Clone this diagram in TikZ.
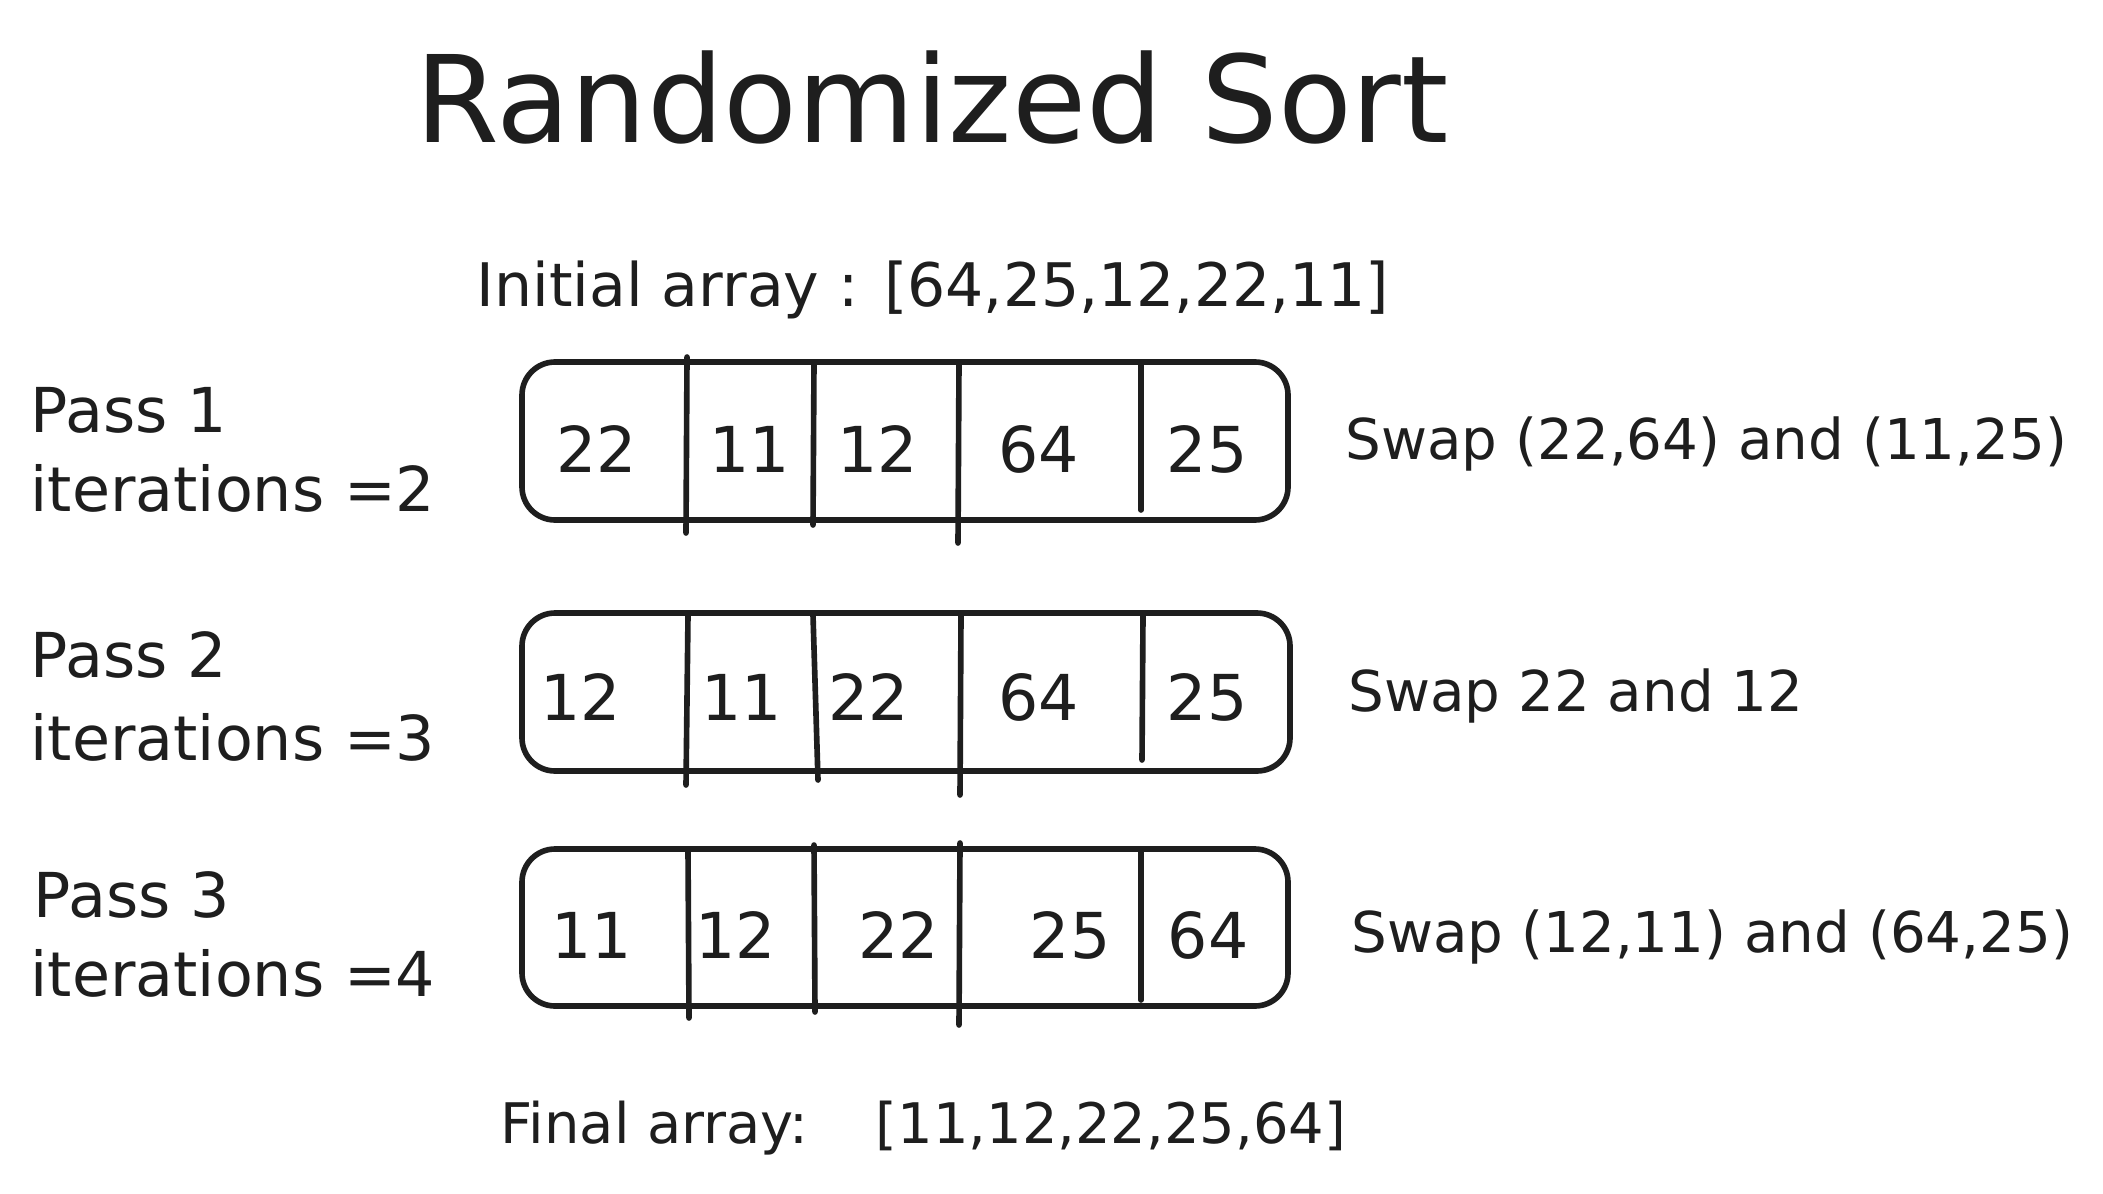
\documentclass[tikz,border=0pt]{standalone}
\usepackage{fontspec}
\setmainfont{DejaVu Sans}
\definecolor{ink}{HTML}{1E1E1E}
\tikzset{
  cellbox/.style={draw=ink, line width=1.6pt, rounded corners=0.33cm},
  divider/.style={draw=ink, line width=1.6pt, line cap=round},
  num/.style={text=ink, font=\fontsize{18}{20}\selectfont, inner sep=0pt},
  lbl/.style={text=ink, inner sep=0pt},
  passlbl/.style={lbl, anchor=base west, font=\fontsize{17.6}{20}\selectfont},
  swaplbl/.style={lbl, anchor=base west, font=\fontsize{16}{19}\selectfont},
}
\newcommand\fitw[2]{\resizebox{#1cm}{!}{#2}}
\begin{document}
\begin{tikzpicture}[x=0.01cm,y=-0.01cm]
\useasboundingbox[fill=white] (0,0) rectangle (2103,1194);

% title and captions
\node[lbl, anchor=base] (title) at (932,143) {\fitw{10.33}{Randomized Sort}};
\node[lbl, anchor=base west] (init) at (476,306) {\fitw{9.12}{Initial array : [64,25,12,22,11]}};
\node[lbl, anchor=base west] (final) at (500,1143) {\fitw{8.45}{Final array:\hspace{1.2em}[11,12,22,25,64]}};

% left labels
\node[passlbl] (p1) at (30,432) {Pass 1};
\node[passlbl] (i1) at (30,511) {iterations =2};
\node[passlbl] (p2) at (30,677) {Pass 2};
\node[passlbl] (i2) at (30,760) {iterations =3};
\node[passlbl] (p3) at (33,917) {Pass 3};
\node[passlbl] (i3) at (30,996) {iterations =4};

% right labels
\node[swaplbl] (s1) at (1345,459) {Swap (22,64) and (11,25)};
\node[swaplbl] (s2) at (1348,711) {Swap 22 and 12};
\node[swaplbl] (s3) at (1351,952) {Swap (12,11) and (64,25)};

% array 1
\draw[cellbox] (522,362) rectangle (1288,520);
\draw[divider] (687,357) -- (686,533);
\draw[divider] (814,362) -- (813,525);
\draw[divider] (959,362) -- (958,543);
\draw[divider] (1141,365) -- (1141,510);
\node[num] (a11) at (597,449) {22};
\node[num] (a12) at (750,449) {11};
\node[num] (a13) at (878,449) {12};
\node[num] (a14) at (1039,449) {64};
\node[num] (a15) at (1207,449) {25};

% array 2
\draw[cellbox] (522,613) rectangle (1290,771);
\draw[divider] (688,615) -- (686,785);
\draw[divider] (813,615) -- (818,780);
\draw[divider] (961,615) -- (960,795);
\draw[divider] (1143,615) -- (1142,760);
\node[num] (a21) at (581,697) {12};
\node[num, anchor=west] (a22) at (701,697) {11};
\node[num] (a23) at (869,697) {22};
\node[num] (a24) at (1039,697) {64};
\node[num] (a25) at (1207,697) {25};

% array 3
\draw[cellbox] (522,849) rectangle (1288,1006);
\draw[divider] (688,850) -- (689,1018);
\draw[divider] (814,845) -- (815,1012);
\draw[divider] (960,843) -- (959,1025);
\draw[divider] (1141,852) -- (1141,1000);
\node[num, anchor=west] (a31) at (551,935) {11};
\node[num] (a32) at (736,935) {12};
\node[num] (a33) at (899,935) {22};
\node[num] (a34) at (1070,935) {25};
\node[num] (a35) at (1208,935) {64};
\end{tikzpicture}
\end{document}
